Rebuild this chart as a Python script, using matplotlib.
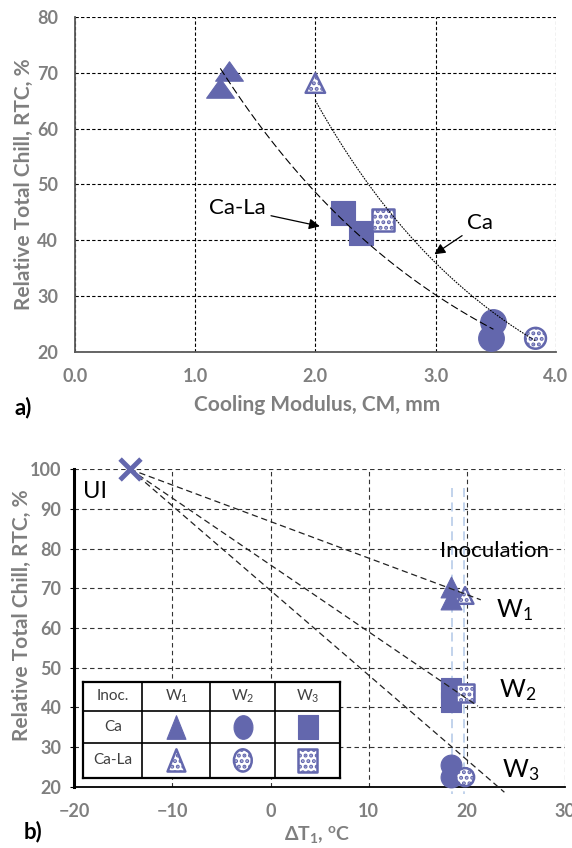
import matplotlib
matplotlib.use("Agg")
import matplotlib.pyplot as plt
import numpy as np
from matplotlib.path import Path

plt.rcParams['font.family'] = ['Lato', 'DejaVu Sans']
plt.rcParams['mathtext.fontset'] = 'custom'
plt.rcParams['mathtext.rm'] = 'Lato'
plt.rcParams['mathtext.it'] = 'Lato:italic'
plt.rcParams['mathtext.bf'] = 'Lato:bold'

BLUE = '#6367ad'
GRAY = '#7f7f7f'
plt.rcParams['hatch.color'] = BLUE
plt.rcParams['hatch.linewidth'] = 2.0

# ---- panel a) : cooling modulus CM (mm) vs relative total chill RTC (%)
ca_w1_cm = [1.28, 1.21]
ca_w1_rtc = [70.4, 67.4]
ca_w2_cm = [2.23, 2.38]
ca_w2_rtc = [44.8, 41.3]
ca_w3_cm = [3.48, 3.46]
ca_w3_rtc = [25.4, 22.4]
cala_cm = [2.0, 2.56, 3.83]      # W1, W2, W3
cala_rtc = [68.2, 43.6, 22.4]

# ---- panel b) : undercooling dT1 (C)
ui_dt, ui_rtc = -14.3, 100
ca_dt = 18.4
cala_dt = 19.8
w_end_dt = [21.4, 21.1, 23.8]
w_end_rtc = [67.1, 40.3, 18.6]
guide_dt = [18.5, 19.7]

# marker shapes
flat_tri = Path([(0, 0.7), (-1, -0.7), (1, -0.7), (0, 0.7)],
                [Path.MOVETO, Path.LINETO, Path.LINETO, Path.CLOSEPOLY])
circ = Path.unit_circle()
tall_circ = Path(circ.vertices * [0.8, 1.0], circ.codes)
tall_sq = Path([(-0.85, -1), (0.85, -1), (0.85, 1), (-0.85, 1), (-0.85, -1)],
               [Path.MOVETO, Path.LINETO, Path.LINETO, Path.LINETO, Path.CLOSEPOLY])
tall_tri = Path([(0, 1), (-0.8, -1), (0.8, -1), (0, 1)],
                [Path.MOVETO, Path.LINETO, Path.LINETO, Path.CLOSEPOLY])


def solid(ax, x, y, m, ms, z=3):
    ax.scatter(x, y, marker=m, s=ms**2, color=BLUE, edgecolors=BLUE,
               linewidths=0.8, zorder=z, clip_on=False)


def dotted(ax, x, y, m, ms, z=3):
    ax.scatter(x, y, marker=m, s=ms**2, facecolors='white', edgecolors=BLUE,
               hatch='...', linewidths=1.8, zorder=z, clip_on=False)


def expfit(ax, x, y, ls):
    k, b = np.polyfit(x, np.log(y), 1)
    xs = np.linspace(min(x), max(x), 100)
    ax.plot(xs, np.exp(b + k * xs), color='black', lw=0.8, ls=ls, zorder=4)


fig = plt.figure(figsize=(5.72, 8.48), dpi=100)

# ================= a)
ax = fig.add_axes([0.1306, 0.5853, 0.8414, 0.3943])
ax.set_xlim(0, 4)
ax.set_ylim(20, 80)
ax.set_xticks(np.arange(0, 4.1, 1.0))
ax.set_xticklabels(['%.1f' % v for v in np.arange(0, 4.1, 1.0)])
ax.set_yticks(np.arange(20, 81, 10))
ax.grid(True, color='black', ls=(0, (3, 2)), lw=0.8)
ax.set_axisbelow(True)
for s in ['top', 'right']:
    ax.spines[s].set_visible(False)
for s in ['left', 'bottom']:
    ax.spines[s].set_color('#595959')
    ax.spines[s].set_linewidth(1.3)
ax.tick_params(length=0, labelsize=13, labelcolor=GRAY, pad=12)
for t in ax.get_xticklabels() + ax.get_yticklabels():
    t.set_fontweight('bold')

solid(ax, ca_w1_cm, ca_w1_rtc, flat_tri, 20)
solid(ax, ca_w2_cm, ca_w2_rtc, 's', 17.5)
solid(ax, ca_w3_cm, ca_w3_rtc, 'o', 18.5)
dotted(ax, cala_cm[0], cala_rtc[0], '^', 14)
dotted(ax, cala_cm[1], cala_rtc[1], 's', 16)
dotted(ax, cala_cm[2], cala_rtc[2], 'o', 15)

expfit(ax, ca_w1_cm + ca_w2_cm + ca_w3_cm, ca_w1_rtc + ca_w2_rtc + ca_w3_rtc, (0, (7, 3)))
expfit(ax, cala_cm, cala_rtc, (0, (1.5, 1)))

arr = dict(arrowstyle='-|>', color='black', lw=0.9, mutation_scale=16)
ax.annotate('Ca-La', xy=(2.06, 42.4), xytext=(1.35, 45.7), fontsize=16,
            ha='center', va='center', arrowprops=arr)
ax.annotate('Ca', xy=(2.97, 37.2), xytext=(3.37, 43.0), fontsize=16,
            ha='center', va='center', arrowprops=arr)

ax.set_xlabel('Cooling Modulus, CM, mm', fontsize=15, color=GRAY, fontweight='bold')
ax.set_ylabel('Relative Total Chill, RTC, %', fontsize=15, color=GRAY, fontweight='bold')
ax.xaxis.set_label_coords(0.504, -0.159)
ax.xaxis.label.set_va('center')
ax.yaxis.set_label_coords(-0.106, 0.5)
ax.yaxis.label.set_va('center')
fig.text(0.040, 0.520, 'a)', fontsize=16, fontweight='bold', ha='center', va='center')

# ================= b)
bx = fig.add_axes([0.1294, 0.0723, 0.8589, 0.3743])
bx.set_xlim(-20, 30)
bx.set_ylim(20, 100)
bx.set_xticks(np.arange(-20, 31, 10))
bx.set_yticks(np.arange(20, 101, 10))
bx.grid(True, color='#333333', ls=(0, (4, 3)), lw=0.8)
bx.set_axisbelow(True)
for s in ['top', 'right']:
    bx.spines[s].set_visible(False)
bx.spines['left'].set_linewidth(2.2)
bx.spines['bottom'].set_linewidth(1.3)
bx.tick_params(axis='x', length=0, labelsize=13, labelcolor=GRAY, pad=12)
bx.tick_params(axis='y', length=3, direction='out', labelsize=13, labelcolor=GRAY, pad=6)
for t in bx.get_xticklabels() + bx.get_yticklabels():
    t.set_fontweight('bold')

for gx in guide_dt:
    bx.plot([gx, gx], [95.2, 18.2], color='#bdd0ea', lw=1.3, ls=(0, (5, 3)),
            zorder=2, clip_on=False)

for ex, ey in zip(w_end_dt, w_end_rtc):
    bx.plot([ui_dt, ex], [ui_rtc, ey], color='#222222', lw=0.9, ls=(0, (5, 3)),
            zorder=4, clip_on=False)

bx.scatter([ui_dt], [ui_rtc], marker='x', s=15**2, color=BLUE, linewidths=3.5,
           zorder=5, clip_on=False)
solid(bx, [ca_dt] * 2, ca_w1_rtc, '^', 15)
solid(bx, [ca_dt] * 2, ca_w2_rtc, 's', 15)
solid(bx, [ca_dt] * 2, ca_w3_rtc, 'o', 15)
dotted(bx, cala_dt, cala_rtc[0], '^', 12)
dotted(bx, cala_dt, cala_rtc[1], 's', 13)
dotted(bx, cala_dt, cala_rtc[2], 'o', 13)

bx.text(-19.1, 94.4, 'UI', fontsize=17, ha='left', va='center')
bx.text(22.75, 79.3, 'Inoculation', fontsize=16, ha='center', va='center')
for i, (tx, ty) in enumerate([(24.8, 64.5), (25.2, 44.4), (25.5, 24.2)]):
    bx.text(tx, ty, 'W$_{\\mathregular{%d}}$' % (i + 1), fontsize=18,
            ha='center', va='center')

bx.set_xlabel('\u0394T$_{\\mathregular{1}}$, $^{\\mathregular{o}}$C', fontsize=14,
              color=GRAY, fontweight='bold')
bx.set_ylabel('Relative Total Chill, RTC, %', fontsize=15, color=GRAY, fontweight='bold')
bx.xaxis.set_label_coords(0.495, -0.152)
bx.xaxis.label.set_va('center')
bx.yaxis.set_label_coords(-0.106, 0.541)
bx.yaxis.label.set_va('center')
fig.text(0.058, 0.020, 'b)', fontsize=16, fontweight='bold', ha='center', va='center')

# ---- symbol table
tb = fig.add_axes([0.1451, 0.0825, 0.4493, 0.1132])
tb.set_xlim(0, 1)
tb.set_ylim(0, 1)
tb.set_facecolor('white')
for s in tb.spines.values():
    s.set_linewidth(1.6)
tb.set_xticks([])
tb.set_yticks([])
col_edges = [0, 0.2315, 0.4957, 0.7482, 1]
row_edges = [1, 0.703, 0.367, 0]
for c in col_edges[1:-1]:
    tb.axvline(c, color='black', lw=1.2)
for r in row_edges[1:-1]:
    tb.axhline(r, color='black', lw=1.2)
cx = [(a + b) / 2 for a, b in zip(col_edges[:-1], col_edges[1:])]
ry = [(a + b) / 2 for a, b in zip(row_edges[:-1], row_edges[1:])]
head = ['Inoc.', 'W$_{\\mathregular{1}}$', 'W$_{\\mathregular{2}}$', 'W$_{\\mathregular{3}}$']
for x, h in zip(cx, head):
    tb.text(x, ry[0], h, fontsize=11, color='#404040', ha='center', va='center')
tb.text(cx[0], ry[1], 'Ca', fontsize=11, color='#404040', ha='center', va='center')
tb.text(cx[0], ry[2], 'Ca-La', fontsize=11, color='#404040', ha='center', va='center')
shapes = [tall_tri, tall_circ, tall_sq]
for x, m in zip(cx[1:], shapes):
    solid(tb, x, ry[1], m, 17)
    dotted(tb, x, ry[2], m, 16)

fig.savefig('out.png', dpi=100)
